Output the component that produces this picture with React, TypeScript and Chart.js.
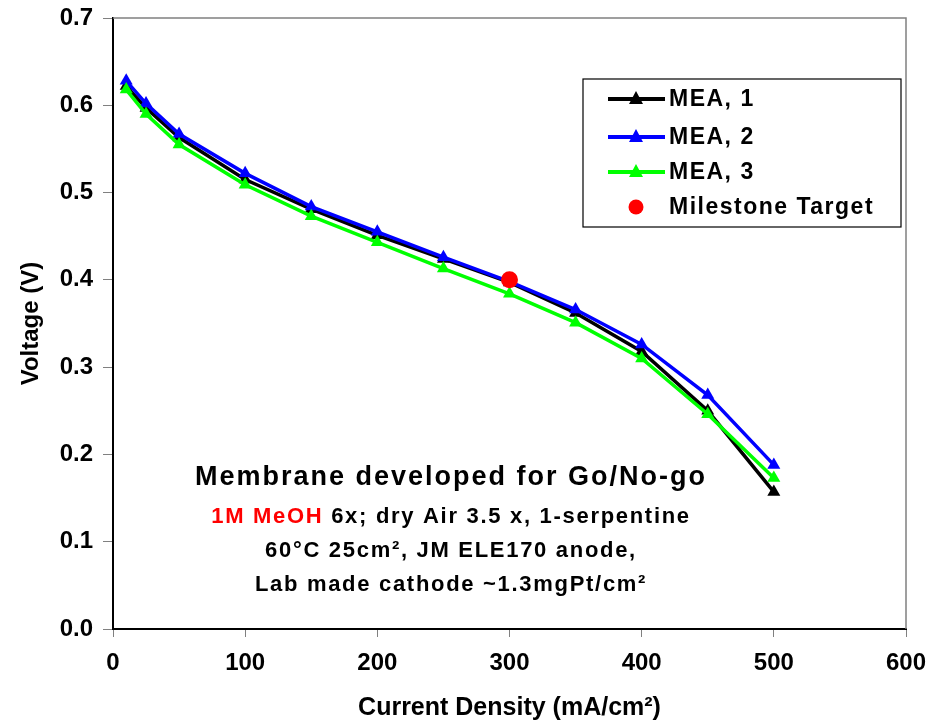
import React, { useEffect, useRef } from "react";
import { Chart, registerables } from "chart.js";

Chart.register(...registerables);

const currentDensity = [10, 25, 50, 100, 150, 200, 250, 300, 350, 400, 450, 500];
const mea1 = [0.622, 0.597, 0.563, 0.515, 0.481, 0.451, 0.424, 0.397, 0.362, 0.318, 0.25, 0.157];
const mea2 = [0.628, 0.602, 0.567, 0.522, 0.484, 0.455, 0.426, 0.398, 0.366, 0.326, 0.268, 0.188];
const mea3 = [0.618, 0.59, 0.555, 0.509, 0.473, 0.443, 0.413, 0.384, 0.351, 0.31, 0.246, 0.173];
const milestoneX = [300];
const milestoneY = [0.4];

const seriesNames = ["MEA, 1", "MEA, 2", "MEA, 3", "Milestone Target"];
const seriesColors = ["#000000", "#0000ff", "#00ff00", "#ff0000"];

const annotationTitle = "Membrane developed for Go/No-go";
const annotationRed = "1M MeOH";
const annotationLine2 = " 6x; dry Air 3.5 x, 1-serpentine";
const annotationLine3 = "60°C 25cm², JM ELE170 anode,";
const annotationLine4 = "Lab made cathode ~1.3mgPt/cm²";

const FONT = "'Liberation Sans', Arial, sans-serif";

const toPoints = (xs: number[], ys: number[]) => xs.map((x, i) => ({ x, y: ys[i] }));

const decorPlugin = {
  id: "decor",
  afterDraw(chart: any) {
    const ctx = chart.ctx as any;
    const { chartArea } = chart;
    ctx.save();
    // gray top/right frame
    ctx.strokeStyle = "#808080";
    ctx.lineWidth = 1.5;
    ctx.beginPath();
    ctx.moveTo(chartArea.left, chartArea.top);
    ctx.lineTo(chartArea.right, chartArea.top);
    ctx.lineTo(chartArea.right, chartArea.bottom);
    ctx.stroke();

    // legend
    const lx = 583, ly = 79, lw = 318, lh = 148;
    ctx.fillStyle = "#ffffff";
    ctx.fillRect(lx, ly, lw, lh);
    ctx.strokeStyle = "#000000";
    ctx.lineWidth = 1.2;
    ctx.strokeRect(lx, ly, lw, lh);
    const rows = [99, 137, 172, 207];
    ctx.font = `bold 23px ${FONT}`;
    ctx.letterSpacing = "1.5px";
    ctx.textBaseline = "middle";
    ctx.textAlign = "left";
    seriesNames.forEach((name, i) => {
      const y = rows[i];
      const color = seriesColors[i];
      if (i < 3) {
        ctx.strokeStyle = color;
        ctx.lineWidth = 4;
        ctx.beginPath();
        ctx.moveTo(608, y);
        ctx.lineTo(665, y);
        ctx.stroke();
        ctx.fillStyle = color;
        ctx.beginPath();
        ctx.moveTo(636, y - 8);
        ctx.lineTo(643, y + 5);
        ctx.lineTo(629, y + 5);
        ctx.closePath();
        ctx.fill();
      } else {
        ctx.fillStyle = color;
        ctx.beginPath();
        ctx.arc(636, y, 7.5, 0, Math.PI * 2);
        ctx.fill();
      }
      ctx.fillStyle = "#000000";
      ctx.fillText(name, 669, y + 1);
    });

    // annotation
    const cx = 451;
    ctx.textAlign = "center";
    ctx.fillStyle = "#000000";
    ctx.font = `bold 27px ${FONT}`;
    ctx.letterSpacing = "2px";
    ctx.fillText(annotationTitle, cx, 478);
    ctx.font = `bold 22px ${FONT}`;
    ctx.letterSpacing = "1.7px";
    ctx.textAlign = "left";
    const wRed = ctx.measureText(annotationRed).width;
    const wRest = ctx.measureText(annotationLine2).width;
    const start = cx - (wRed + wRest) / 2;
    ctx.fillStyle = "#ff0000";
    ctx.fillText(annotationRed, start, 517);
    ctx.fillStyle = "#000000";
    ctx.fillText(annotationLine2, start + wRed, 517);
    ctx.textAlign = "center";
    ctx.fillText(annotationLine3, cx, 551);
    ctx.fillText(annotationLine4, cx, 585);
    ctx.letterSpacing = "0px";
    ctx.restore();
  },
};

export default function App() {
  const ref = useRef<HTMLCanvasElement>(null);
  useEffect(() => {
    if (!ref.current) return;
    const lineDs = (label: string, ys: number[], color: string, order: number) => ({
      label,
      data: toPoints(currentDensity, ys),
      borderColor: color,
      backgroundColor: color,
      borderWidth: 3.5,
      pointStyle: "triangle" as const,
      pointRadius: 7.5,
      pointBorderWidth: 0,
      showLine: true,
      order,
    });
    const chart = new Chart(ref.current, {
      type: "scatter",
      data: {
        datasets: [
          lineDs(seriesNames[0], mea1, seriesColors[0], 3),
          lineDs(seriesNames[1], mea2, seriesColors[1], 2),
          lineDs(seriesNames[2], mea3, seriesColors[2], 1),
          {
            label: seriesNames[3],
            data: toPoints(milestoneX, milestoneY),
            borderColor: seriesColors[3],
            backgroundColor: seriesColors[3],
            pointStyle: "circle",
            pointRadius: 8.5,
            pointBorderWidth: 0,
            showLine: false,
            order: 0,
          },
        ],
      },
      options: {
        animation: false,
        responsive: false,
        layout: { autoPadding: false, padding: { top: 18, right: 25, left: 0, bottom: 0 } },
        plugins: { legend: { display: false }, tooltip: { enabled: false } },
        scales: {
          x: {
            type: "linear",
            min: 0,
            max: 600,
            afterFit: (s: any) => {
              s.height = 95;
              s.paddingLeft = 0;
              s.paddingRight = 0;
            },
            ticks: {
              stepSize: 100,
              color: "#000",
              font: { family: FONT, size: 24, weight: "bold" },
              padding: 12,
            },
            grid: {
              display: true,
              drawOnChartArea: false,
              drawTicks: true,
              tickLength: 8,
              color: "#808080",
            },
            border: { display: true, color: "#000", width: 2 },
            title: {
              display: true,
              text: "Current Density (mA/cm²)",
              color: "#000",
              font: { family: FONT, size: 25, weight: "bold" },
              padding: { top: 0, bottom: 1 },
            },
          },
          y: {
            type: "linear",
            min: 0,
            max: 0.7,
            afterFit: (s: any) => {
              s.width = 113;
              s.paddingTop = 0;
              s.paddingBottom = 0;
            },
            ticks: {
              stepSize: 0.1,
              color: "#000",
              font: { family: FONT, size: 24, weight: "bold" },
              padding: 10,
              callback: (v: any) => Number(v).toFixed(1),
            },
            grid: {
              display: true,
              drawOnChartArea: false,
              drawTicks: true,
              tickLength: 10,
              color: "#808080",
            },
            border: { display: true, color: "#000", width: 2 },
            title: {
              display: true,
              text: "Voltage (V)",
              color: "#000",
              font: { family: FONT, size: 24, weight: "bold" },
              padding: { top: 17, bottom: 0 },
            },
          },
        },
      },
      plugins: [decorPlugin],
    });
    return () => chart.destroy();
  }, []);
  return (
    <div style={{ position: "fixed", left: 0, top: 0, width: 931, height: 724, background: "#fff" }}>
      <canvas ref={ref} width={931} height={724} style={{ width: 931, height: 724 }} />
    </div>
  );
}
